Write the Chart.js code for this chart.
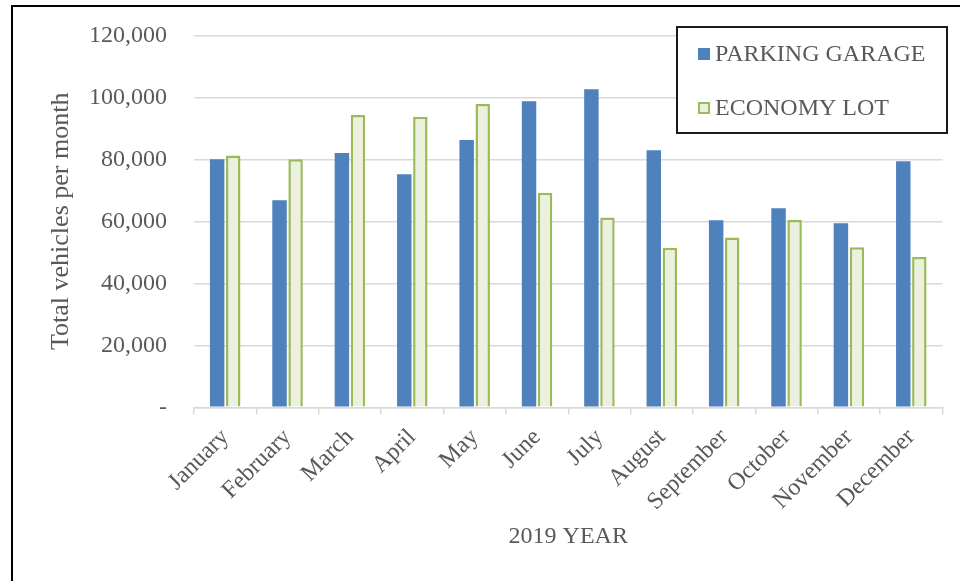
<!DOCTYPE html>
<html>
<head>
<meta charset="utf-8">
<script src="https://cdn.jsdelivr.net/npm/chart.js@4/dist/chart.umd.min.js"></script>
<style>
  html, body { margin: 0; padding: 0; background: #fff; }
  #wrap { width: 960px; height: 581px; position: relative; }
</style>
</head>
<body>
<div id="wrap"><canvas id="vehiclesBarChart"></canvas></div>
<script>
'use strict';

const months = ['January', 'February', 'March', 'April', 'May', 'June',
  'July', 'August', 'September', 'October', 'November', 'December'];
const parkingGarage = [80000, 66800, 82000, 75200, 86200, 98700, 102600, 82900, 60300, 64200, 59400, 79400];
const economyLot = [81200, 80000, 94300, 93700, 97800, 69200, 61200, 51500, 54800, 60400, 51600, 48500];
const yTicks = [0, 20000, 40000, 60000, 80000, 100000, 120000];

const textColor = '#595959';
const gridColor = '#d9d9d9';
const serif = "'Liberation Serif', 'Times New Roman', serif";

// Frame lines along the top and left edge of the figure
const framePlugin = {
  id: 'frame',
  afterDraw(chart) {
    const ctx = chart.ctx;
    ctx.save();
    ctx.fillStyle = '#000';
    ctx.fillRect(11, 5, 2, chart.height);
    ctx.fillRect(11, 5, chart.width, 2);
    ctx.restore();
  }
};

// Boxed legend sitting in the top right corner of the plot
const boxLegendPlugin = {
  id: 'boxLegend',
  afterDraw(chart) {
    const ctx = chart.ctx;
    const x = 677, y = 27, w = 270, h = 106;
    ctx.save();
    ctx.fillStyle = '#fff';
    ctx.fillRect(x, y, w, h);
    ctx.strokeStyle = '#1a1a1a';
    ctx.lineWidth = 2;
    ctx.strokeRect(x, y, w, h);
    ctx.font = '24px ' + serif;
    ctx.textBaseline = 'middle';
    chart.data.datasets.forEach((ds, i) => {
      const cy = 54 + i * 54;
      ctx.fillStyle = ds.backgroundColor;
      ctx.fillRect(698, cy - 6, 12, 12);
      if (ds.borderWidth) {
        ctx.strokeStyle = ds.borderColor;
        ctx.lineWidth = 2;
        ctx.strokeRect(699, cy - 5, 10, 10);
      }
      ctx.fillStyle = textColor;
      ctx.fillText(ds.label, 715, cy + 1);
    });
    ctx.restore();
  }
};

const el = document.getElementById('vehiclesBarChart');
new Chart(el, {
  type: 'bar',
  data: {
    labels: months,
    datasets: [
      {
        label: 'PARKING GARAGE',
        data: parkingGarage,
        backgroundColor: '#4f81bd',
        borderWidth: 0,
        barPercentage: 0.9,
        categoryPercentage: 0.515
      },
      {
        label: 'ECONOMY LOT',
        data: economyLot,
        backgroundColor: '#ebf1de',
        borderColor: '#9bbb59',
        borderWidth: 2.5,
        barPercentage: 0.9,
        categoryPercentage: 0.515
      }
    ]
  },
  options: {
    responsive: true,
    maintainAspectRatio: false,
    animation: false,
    layout: { padding: { left: 0, right: 17.5, top: 35.3, bottom: 0 } },
    plugins: {
      legend: { display: false },
      tooltip: { enabled: false }
    },
    scales: {
      x: {
        afterFit(scale) { scale.height = 173.7; },
        grid: {
          offset: true,
          drawOnChartArea: false,
          drawTicks: true,
          tickLength: 7,
          color: gridColor,
          lineWidth: 1.5
        },
        border: { display: true, color: gridColor, width: 1.5 },
        ticks: {
          color: textColor,
          font: { family: serif, size: 24 },
          minRotation: 45,
          maxRotation: 45,
          padding: 9,
          autoSkip: false
        },
        title: {
          display: true,
          text: '2019 YEAR',
          color: textColor,
          font: { family: serif, size: 24 },
          padding: { top: 0, bottom: 30 }
        }
      },
      y: {
        min: 0,
        max: 120000,
        afterFit(scale) {
          scale.width = 194;
          // the tick padding otherwise pushes the plot top down
          scale.paddingTop = 0;
          scale.paddingBottom = 0;
        },
        afterBuildTicks(scale) { scale.ticks = yTicks.map(v => ({ value: v })); },
        grid: { color: gridColor, lineWidth: 1.5, drawTicks: false },
        border: { display: false },
        ticks: {
          color: textColor,
          font: { family: serif, size: 24 },
          padding: 27,
          callback: v => v === 0 ? '-' : v.toLocaleString('en-US')
        },
        title: {
          display: true,
          text: 'Total vehicles per month',
          color: textColor,
          font: { family: serif, size: 26 },
          padding: { top: 46, bottom: 0 }
        }
      }
    }
  },
  plugins: [framePlugin, boxLegendPlugin]
});
</script>
</body>
</html>
